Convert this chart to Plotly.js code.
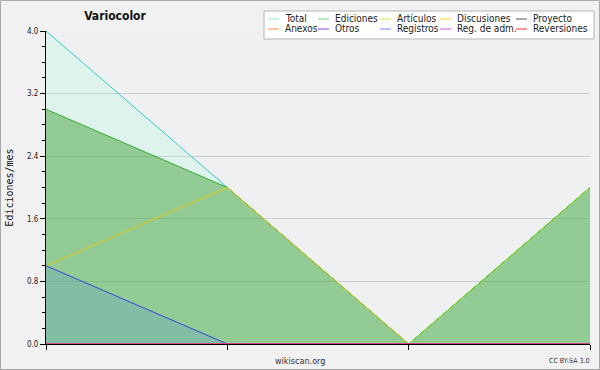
<!DOCTYPE html>
<html>
<head>
<meta charset="utf-8">
<script src="https://cdn.plot.ly/plotly-3.0.1.min.js"></script>
<style>html,body{margin:0;padding:0;background:#f1f1f1;}#chart{width:600px;height:370px;}</style>
</head>
<body>
<div id="chart"></div>
<script>
// ---- data ----
const periods = [0, 1, 2, 3];
const seriesNames = ['Total', 'Ediciones', 'Artículos', 'Discusiones', 'Proyecto',
                     'Anexos', 'Otros', 'Registros', 'Reg. de adm.', 'Reversiones'];
const total       = [4, 2, 0, 2];
const ediciones   = [3, 2, 0, 2];
const articulos   = [0, 0, 0, 2];
const discusiones = [1, 2, 0, 0];
const proyecto    = [0, 0, 0, 0];
const anexos      = [0, 0, 0, 0];
const otros       = [0, 0, 0, 0];
const registros   = [1, 0, 0, 0];
const regAdm      = [0, 0, 0, 0];
const reversiones = [0, 0, 0, 0];
const yTicks = [0, 0.8, 1.6, 2.4, 3.2, 4.0];

const seriesValues = [total, ediciones, articulos, discusiones, proyecto,
                      anexos, otros, registros, regAdm, reversiones];
const lineColors = ['#33cccc', '#33aa33', '#99dd22', '#e6c619', '#555555',
                    '#ff8844', '#8844ee', '#3344dd', '#dd55ee', '#ff3333'];
const legendColors = ['#99e6dd', '#77cc77', '#ccee44', '#ffcc33', '#555555',
                      '#ff8844', '#8844ee', '#7788ff', '#dd55ee', '#ff3333'];
const fills = {0: 'rgba(150,255,210,0.2)', 1: 'rgba(73,163,62,0.5)', 7: 'rgba(62,138,234,0.2)'};

const W = 600, H = 370, L = 46, R = 10, T = 31, B = 26;
const pw = W - L - R, ph = H - T - B;
const px = x => (x - L) / pw;
const py = y => (H - B - y) / ph;

const traces = seriesValues.map((vals, i) => {
  const t = {
    x: periods, y: vals, type: 'scatter', mode: 'lines', name: seriesNames[i],
    line: {color: lineColors[i], width: 1}, showlegend: false, hoverinfo: 'skip'
  };
  if (fills[i]) { t.fill = 'tozeroy'; t.fillcolor = fills[i]; }
  return t;
});

// manual legend
const shapes = [
  {type: 'rect', xref: 'paper', yref: 'paper', x0: px(0.5), x1: px(599.5), y0: py(369.5), y1: py(0.5),
   line: {color: '#a8a8a8', width: 1}, fillcolor: 'rgba(0,0,0,0)', layer: 'above'},
  {type: 'rect', xref: 'paper', yref: 'paper', x0: px(264), x1: px(594), y0: py(39), y1: py(11),
   line: {color: '#b4b4b4', width: 1}, fillcolor: '#ffffff', layer: 'above'}
];
const annotations = [];
const colText = [285, 335, 397, 457, 533];
const rowY = [19, 29];
seriesNames.forEach((n, i) => {
  const c = i % 5, r = Math.floor(i / 5);
  const tx = colText[c], ty = rowY[r];
  shapes.push({type: 'line', xref: 'paper', yref: 'paper', x0: px(tx - 17), x1: px(tx - 6),
    y0: py(ty), y1: py(ty), line: {color: legendColors[i], width: 1}, layer: 'above'});
  annotations.push({xref: 'paper', yref: 'paper', x: px(tx - 2), y: py(ty), xanchor: 'left', yanchor: 'middle',
    text: n, showarrow: false, font: {family: 'DejaVu Sans Condensed, DejaVu Sans', size: 10, color: '#222'}});
});
annotations.push({xref: 'paper', yref: 'paper', x: px(300), y: py(361), xanchor: 'center', yanchor: 'middle',
  text: 'wikiscan.org', showarrow: false, font: {family: 'DejaVu Sans Condensed, DejaVu Sans', size: 9, color: '#333'}});
annotations.push({xref: 'paper', yref: 'paper', x: px(591), y: py(361), xanchor: 'right', yanchor: 'middle',
  text: 'CC BY-SA 3.0', showarrow: false, font: {family: 'DejaVu Sans Condensed, DejaVu Sans', size: 7, color: '#333'}});

const layout = {
  width: W, height: H,
  margin: {l: L, r: R, t: T, b: B, pad: 0},
  paper_bgcolor: '#f1f1f1', plot_bgcolor: '#eff0f2',
  title: {text: 'Variocolor', x: px(115), xref: 'paper', xanchor: 'center', y: 1 - 16 / H, yref: 'container', yanchor: 'middle',
    font: {family: 'DejaVu Sans Condensed, DejaVu Sans', size: 12, color: '#111', weight: 'bold'}},
  showlegend: false,
  xaxis: {range: [0, 3], tickvals: periods, showticklabels: false, ticks: 'outside', ticklen: 5, tickcolor: '#000',
    showline: true, linecolor: '#000', linewidth: 1, showgrid: false, zeroline: false, fixedrange: true},
  yaxis: {range: [0, 4], tickvals: yTicks, tickformat: '.1f', ticks: 'outside', ticklen: 5, tickcolor: '#000',
    showline: true, linecolor: '#000', linewidth: 1, showgrid: true, gridcolor: '#cccccc', gridwidth: 1, zeroline: false,
    tickfont: {family: 'DejaVu Sans Condensed, DejaVu Sans', size: 8, color: '#222'},
    minor: {dtick: 0.2, ticks: 'outside', ticklen: 3, tickcolor: '#000', showgrid: false},
    title: {text: 'Ediciones/mes', standoff: 11, font: {family: 'DejaVu Sans Mono', size: 10, color: '#111'}}},
  shapes: shapes, annotations: annotations
};
Plotly.newPlot('chart', traces, layout, {displayModeBar: false, staticPlot: true});
</script>
</body>
</html>
